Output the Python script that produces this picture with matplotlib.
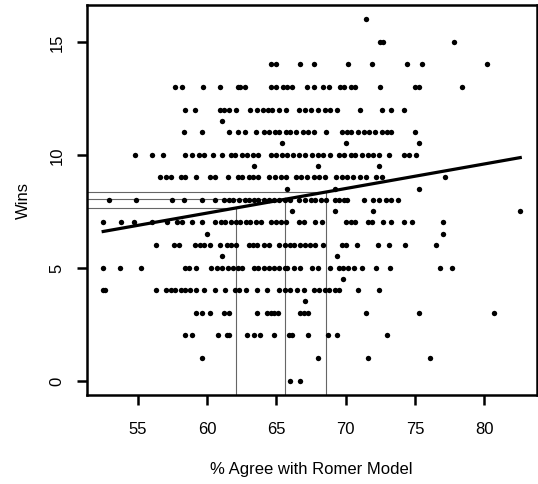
import matplotlib
matplotlib.use("Agg")
import matplotlib.pyplot as plt
import numpy as np

win_levels = [16, 15, 14, 13, 12, 11.5, 11, 10.5, 10, 9.5, 9, 8.5, 8, 7.5, 7,
              6.5, 6, 5.5, 5, 4.5, 4, 3.5, 3, 2, 1, 0]
agree_by_row = [
    [71.5],
    [72.5, 72.7, 77.8],
    [64.6, 65.0, 66.7, 67.7, 70.2, 71.9, 74.4, 75.5, 80.2],
    [57.7, 58.2, 59.7, 60.9, 62.2, 62.4, 62.7, 64.6, 65.0, 65.5, 65.8, 66.1,
     67.2, 67.7, 68.4, 68.8, 69.6, 69.9, 70.4, 70.7, 72.5, 75.0, 75.3, 78.4],
    [58.4, 59.1, 60.9, 61.2, 61.6, 62.1, 63.1, 63.6, 64.0, 64.4, 64.7, 65.2,
     65.7, 66.6, 67.1, 67.5, 68.0, 68.5, 68.9, 69.4, 71.0, 72.6, 73.3, 74.2],
    [61.1],
    [58.3, 59.6, 61.6, 62.2, 62.7, 63.5, 64.1, 64.5, 64.9, 65.2, 65.7, 66.0,
     66.4, 66.9, 67.3, 67.7, 68.6, 69.7, 70.1, 70.4, 70.9, 71.3, 71.7, 72.1,
     72.6, 73.0, 73.3, 75.0],
    [65.4, 70.0, 75.3],
    [54.8, 56.0, 56.8, 58.4, 58.9, 59.4, 59.8, 60.4, 61.1, 61.7, 62.0, 62.5,
     62.9, 63.3, 63.7, 64.6, 65.0, 65.4, 65.8, 66.2, 66.6, 67.1, 67.6, 68.0,
     68.4, 68.9, 69.5, 69.9, 70.4, 70.7, 71.2, 71.6, 72.0, 72.4, 73.1, 74.2,
     74.6, 75.1],
    [63.4, 68.0, 72.4],
    [56.6, 57.0, 57.4, 58.1, 58.4, 59.2, 60.2, 60.6, 61.5, 62.2, 62.5, 63.0,
     63.3, 63.7, 64.5, 64.9, 65.3, 65.7, 66.4, 66.8, 67.2, 67.7, 68.1, 68.5,
     69.3, 69.7, 70.1, 70.5, 71.0, 71.5, 72.2, 72.6, 77.2],
    [65.8, 69.2, 75.3],
    [52.9, 54.9, 57.5, 58.3, 59.6, 60.6, 61.2, 61.6, 61.9, 62.3, 62.7, 63.0,
     63.4, 63.7, 64.1, 64.5, 64.8, 65.2, 65.6, 66.0, 66.6, 67.1, 67.5, 67.8,
     68.2, 68.6, 69.2, 69.5, 69.9, 70.1, 71.3, 72.0, 72.4, 72.9, 73.3, 73.8],
    [66.1, 69.2, 72.0, 82.6],
    [52.5, 53.8, 54.7, 56.0, 57.1, 57.8, 58.2, 58.9, 59.6, 60.6, 61.0, 61.3,
     61.7, 62.1, 62.4, 62.8, 63.1, 63.5, 63.9, 64.6, 65.0, 65.3, 65.7, 66.6,
     67.0, 67.8, 68.3, 70.0, 70.4, 70.7, 71.6, 71.9, 72.7, 73.3, 74.2, 74.8,
     77.0],
    [60.0, 77.0],
    [56.3, 57.6, 58.0, 59.1, 59.5, 59.8, 60.2, 60.9, 61.4, 61.7, 62.1, 63.0,
     63.3, 63.6, 64.1, 64.5, 65.2, 65.6, 66.0, 66.3, 66.7, 67.1, 67.4, 67.8,
     68.4, 69.7, 70.0, 70.8, 72.3, 73.1, 74.3, 76.5],
    [61.1, 69.4],
    [52.5, 53.7, 55.2, 58.4, 58.7, 59.2, 60.3, 60.7, 61.1, 61.5, 61.9, 62.2,
     62.5, 63.4, 63.7, 64.1, 64.5, 64.8, 65.2, 65.6, 65.8, 66.3, 66.7, 67.6,
     68.0, 68.9, 69.5, 69.8, 70.2, 70.6, 71.2, 72.2, 73.2, 76.8, 77.7],
    [69.8],
    [52.5, 52.6, 56.3, 57.0, 57.4, 57.7, 58.1, 58.4, 58.8, 59.2, 59.8, 60.6,
     61.3, 62.0, 62.3, 62.8, 63.6, 64.3, 65.2, 65.6, 66.0, 66.5, 67.0, 67.7,
     68.1, 68.5, 68.8, 69.2, 69.5, 70.9, 72.4],
    [67.1],
    [59.2, 59.6, 60.2, 61.2, 61.6, 63.6, 64.3, 64.6, 64.8, 65.1, 66.7, 67.0,
     67.3, 71.5, 75.3, 80.7],
    [58.4, 58.9, 60.8, 61.4, 61.6, 62.9, 63.4, 63.8, 64.8, 65.9, 66.1, 67.3,
     68.7, 69.4, 73.0],
    [59.6, 68.0, 71.6, 76.1],
    [66.0, 66.7],
]

fit_intercept = 0.893
fit_slope = 0.1087
marked_agree = [62.1, 65.65, 68.6]

x_ticks = [55, 60, 65, 70, 75, 80]
y_ticks = [0, 5, 10, 15]

agree = np.concatenate([np.array(r, dtype=float) for r in agree_by_row])
wins = np.concatenate([np.full(len(r), w, dtype=float)
                       for w, r in zip(win_levels, agree_by_row)])

plt.rcParams["font.family"] = ["Liberation Sans", "DejaVu Sans"]

fig = plt.figure(figsize=(5.38, 4.85), dpi=100)
ax = fig.add_axes([0.1608, 0.1835, 0.8372, 0.8047])

# R-style 4% padding around the data range
xr = agree.max() - agree.min()
yr = wins.max() - wins.min()
x0, x1 = agree.min() - 0.04 * xr, agree.max() + 0.04 * xr
y0, y1 = wins.min() - 0.04 * yr, wins.max() + 0.04 * yr
ax.set_xlim(x0, x1)
ax.set_ylim(y0, y1)

ax.scatter(agree, wins, s=15, c="black", linewidths=0, zorder=3)

xs = np.array([agree.min(), agree.max()])
ax.plot(xs, fit_intercept + fit_slope * xs, color="black", lw=2.3, zorder=4)

for xm in marked_agree:
    ym = fit_intercept + fit_slope * xm
    ax.plot([xm, xm], [y0, ym], color="#666666", lw=0.8, zorder=2)
    ax.plot([x0, xm], [ym, ym], color="#666666", lw=0.8, zorder=2)

for side in ax.spines.values():
    side.set_linewidth(1.8)

ax.set_xticks(x_ticks)
ax.set_yticks(y_ticks)
ax.tick_params(axis="both", direction="out", length=7, width=1.8,
               labelsize=12)
ax.tick_params(axis="x", pad=12)
ax.tick_params(axis="y", pad=9)
for lbl in ax.get_yticklabels():
    lbl.set_rotation(90)
    lbl.set_va("center")

ax.set_xlabel("% Agree with Romer Model", fontsize=12, labelpad=18)
ax.set_ylabel("Wins", fontsize=12, labelpad=13)

fig.savefig("out.png", dpi=100)
